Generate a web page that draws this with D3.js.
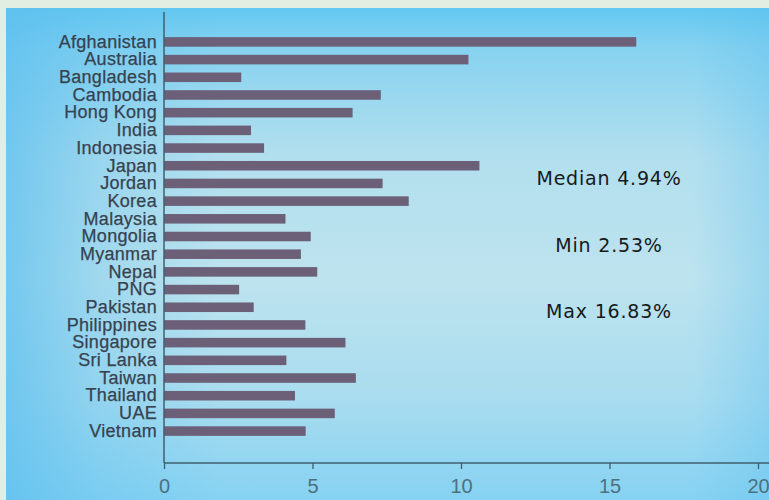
<!DOCTYPE html>
<html>
<head>
<meta charset="utf-8">
<script src="https://cdn.jsdelivr.net/npm/d3@7"></script>
<style>
	body { margin: 0; background: #e3eee3; }
	svg { display: block; }
</style>
</head>
<body>
<div id="bar-chart"></div>
<script>
// values (percent)
const countries = ["Afghanistan", "Australia", "Bangladesh", "Cambodia", "Hong Kong", "India",
	"Indonesia", "Japan", "Jordan", "Korea", "Malaysia", "Mongolia", "Myanmar", "Nepal", "PNG",
	"Pakistan", "Philippines", "Singapore", "Sri Lanka", "Taiwan", "Thailand", "UAE", "Vietnam"];
const values = [15.9, 10.25, 2.6, 7.3, 6.35, 2.93,
	3.37, 10.62, 7.36, 8.24, 4.09, 4.94, 4.61, 5.16, 2.53,
	3.02, 4.76, 6.11, 4.12, 6.46, 4.41, 5.75, 4.77];
const x_ticks = [0, 5, 10, 15, 20];
const stat_labels = ["Median 4.94%", "Min 2.53%", "Max 16.83%"];

class BarChart {

	constructor(element_id) {
		const width = 769, height = 500;
		const data = countries.map((c, i) => ({country: c, value: values[i]}));

		const svg = d3.select("#" + element_id)
			.append("svg")
				.attr("width", width)
				.attr("height", height);

		//****** slide background ******
		const defs = svg.append("defs");
		const vg = defs.append("linearGradient")
			.attr("id", "bg_v").attr("x1", 0).attr("y1", 0).attr("x2", 0).attr("y2", 1);
		[[0, "#63c8f1"], [0.08, "#86d2f0"], [0.3, "#b2dfee"], [0.55, "#bde3ee"], [0.8, "#a8dcef"], [1, "#86d2f2"]]
			.forEach(s => vg.append("stop").attr("offset", s[0]).attr("stop-color", s[1]));
		const hg = defs.append("linearGradient")
			.attr("id", "bg_h").attr("x1", 0).attr("y1", 0).attr("x2", 1).attr("y2", 0);
		[[0, "#5cbfee", 0.75], [0.12, "#5cbfee", 0.3], [0.28, "#5cbfee", 0], [0.9, "#5cbfee", 0], [1, "#5cbfee", 0.35]]
			.forEach(s => hg.append("stop").attr("offset", s[0]).attr("stop-color", s[1]).attr("stop-opacity", s[2]));

		svg.append("rect").attr("x", 6).attr("y", 8).attr("width", width - 6).attr("height", height - 8)
			.attr("fill", "url(#bg_v)");
		svg.append("rect").attr("x", 6).attr("y", 8).attr("width", width - 6).attr("height", height - 8)
			.attr("fill", "url(#bg_h)");

		// scales
		const x_axis = d3.scaleLinear()
			.domain([0, 20])
			.range([164, 758]);

		const y_axis = d3.scaleBand()
			.domain(countries)
			.range([29, 444])
			.padding(0.46);

		const axis_color = "#3f5f6e";

		// bars
		svg.append("g")
			.selectAll("rect")
			.data(data)
			.join("rect")
				.attr("x", x_axis(0))
				.attr("y", d => y_axis(d.country))
				.attr("width", d => x_axis(d.value) - x_axis(0))
				.attr("height", y_axis.bandwidth())
				.attr("fill", "#6b6078");

		// Y axis (labels only, line drawn by hand)
		const gy = svg.append("g")
			.attr("transform", "translate(" + x_axis(0) + ",0)")
			.call(d3.axisLeft(y_axis).tickSize(0).tickPadding(7));
		gy.select(".domain").remove();
		gy.selectAll("text")
			.attr("font-family", "Liberation Sans, Arial, sans-serif")
			.attr("font-size", 18)
			.attr("letter-spacing", 0.3)
			.attr("fill", "#37424f")
			.attr("stroke", "#37424f")
			.attr("stroke-width", 0.25);
		svg.append("line")
			.attr("x1", x_axis(0)).attr("x2", x_axis(0))
			.attr("y1", 12).attr("y2", 463)
			.attr("stroke", axis_color).attr("stroke-width", 1.5);

		// X axis
		const gx = svg.append("g")
			.attr("transform", "translate(0,463)")
			.call(d3.axisBottom(x_axis).tickValues(x_ticks).tickSize(6).tickSizeOuter(0).tickPadding(10));
		gx.select(".domain").remove();
		gx.selectAll("line").attr("stroke", axis_color).attr("stroke-width", 1.3);
		gx.selectAll("text")
			.attr("font-family", "Liberation Sans, Arial, sans-serif")
			.attr("font-size", 20)
			.attr("fill", "#4d7080");
		svg.append("line")
			.attr("x1", x_axis(0)).attr("x2", width)
			.attr("y1", 463).attr("y2", 463)
			.attr("stroke", axis_color).attr("stroke-width", 1.5);

		// summary text
		svg.append("g")
			.selectAll("text")
			.data(stat_labels)
			.join("text")
				.attr("x", 609)
				.attr("y", (d, i) => 185 + i * 66.5)
				.attr("text-anchor", "middle")
				.attr("font-family", "DejaVu Sans, sans-serif")
				.attr("font-size", 19)
				.attr("letter-spacing", 0.8)
				.attr("fill", "#161a1c")
				.text(d => d);
	}
}

function whenDocumentLoaded(action) {
	if (document.readyState === "loading") {
		document.addEventListener("DOMContentLoaded", action);
	} else {
		action();
	}
}

whenDocumentLoaded(() => {
	plot_object = new BarChart('bar-chart');
});
</script>
</body>
</html>
